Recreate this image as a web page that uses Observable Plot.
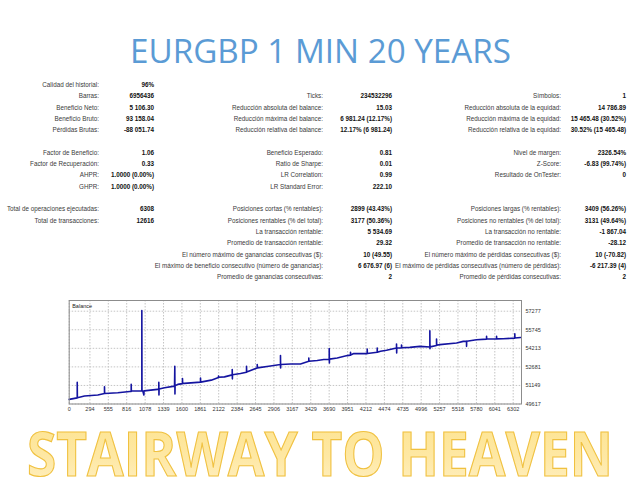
<!DOCTYPE html>
<html>
<head>
<meta charset="utf-8">
<script src="https://cdn.jsdelivr.net/npm/d3@7"></script>
<script src="https://cdn.jsdelivr.net/npm/@observablehq/plot@0.6"></script>
<style>
  html, body { margin: 0; padding: 0; background: #fff; }
  #page { position: relative; width: 640px; height: 480px; overflow: hidden; background: #fff; font-family: "Liberation Sans", Arial, sans-serif; }
  .lab, .val { position: absolute; white-space: nowrap; font-size: 6.3px; line-height: 8px; text-align: right; }
  .lab { color: #3a3a3a; }
  .val { color: #111; font-weight: bold; }
  #chart { position: absolute; left: 0; top: 296px; }
  #deco { position: absolute; left: 0; top: 0; pointer-events: none; }
</style>
</head>
<body>
<div id="page">
  <div id="chart"></div>
  <svg id="deco" width="640" height="480"></svg>
</div>
<script>
// ---------- texts ----------
const titleText = "EURGBP 1 MIN 20 YEARS";
const bottomText = "STAIRWAY TO HEAVEN";

// ---------- statistics table (row index, label, value) ----------
const col1Rows = [0, 1, 2, 3, 4, 6, 7, 8, 9, 11, 12];
const col1Labels = ["Calidad del historial:", "Barras:", "Beneficio Neto:", "Beneficio Bruto:", "Pérdidas Brutas:",
  "Factor de Beneficio:", "Factor de Recuperación:", "AHPR:", "GHPR:",
  "Total de operaciones ejecutadas:", "Total de transacciones:"];
const col1Values = ["96%", "6956436", "5 106.30", "93 158.04", "-88 051.74",
  "1.06", "0.33", "1.0000 (0.00%)", "1.0000 (0.00%)", "6308", "12616"];

const col2Rows = [1, 2, 3, 4, 6, 7, 8, 9, 11, 12, 13, 14, 15, 16, 17];
const col2Labels = ["Ticks:", "Reducción absoluta del balance:", "Reducción máxima del balance:", "Reducción relativa del balance:",
  "Beneficio Esperado:", "Ratio de Sharpe:", "LR Correlation:", "LR Standard Error:",
  "Posiciones cortas (% rentables):", "Posiciones rentables (% del total):", "La transacción rentable:",
  "Promedio de transacción rentable:", "El número máximo de ganancias consecutivas ($):",
  "El máximo de beneficio consecutivo (número de ganancias):", "Promedio de ganancias consecutivas:"];
const col2Values = ["234532296", "15.03", "6 981.24 (12.17%)", "12.17% (6 981.24)",
  "0.81", "0.01", "0.99", "222.10",
  "2899 (43.43%)", "3177 (50.36%)", "5 534.69", "29.32", "10 (49.55)", "6 676.97 (6)", "2"];

const col3Rows = [1, 2, 3, 4, 6, 7, 8, 11, 12, 13, 14, 15, 16, 17];
const col3Labels = ["Símbolos:", "Reducción absoluta de la equidad:", "Reducción máxima de la equidad:", "Reducción relativa de la equidad:",
  "Nivel de margen:", "Z-Score:", "Resultado de OnTester:",
  "Posiciones largas (% rentables):", "Posiciones no rentables (% del total):", "La transacción no rentable:",
  "Promedio de transacción no rentable:", "El número máximo de pérdidas consecutivas ($):",
  "El máximo de pérdidas consecutivas (número de pérdidas):", "Promedio de pérdidas consecutivas:"];
const col3Values = ["1", "14 786.89", "15 465.48 (30.52%)", "30.52% (15 465.48)",
  "2326.54%", "-6.83 (99.74%)", "0",
  "3409 (56.26%)", "3131 (49.64%)", "-1 867.04", "-28.12", "10 (-70.82)", "-6 217.39 (4)", "2"];

// ---------- balance curve ----------
const tradeNo = [
  0, 114, 114, 116, 217, 406, 501, 501, 503, 690, 860, 880, 880, 882,
  1031, 1031, 1033, 1045, 1060, 1062, 1253, 1272, 1272, 1274, 1276, 1353,
  1495, 1499, 1501, 1503, 1541, 1608, 1608, 1610, 1636, 1864, 1864, 1866,
  2016, 2119, 2119, 2121, 2204, 2314, 2314, 2316, 2318, 2431, 2517, 2517, 2519,
  2669, 2669, 2671, 2833, 2999, 2999, 3001, 3003, 3141, 3283, 3401, 3401, 3403,
  3520, 3614, 3691, 3691, 3693, 3695, 3804, 3946, 3993, 3993, 3995, 4040,
  4230, 4230, 4232, 4372, 4372, 4374, 4419, 4504, 4646, 4646, 4648, 4650,
  4717, 4717, 4719, 4835, 4977, 5119, 5119, 5121, 5123, 5214, 5214, 5216,
  5261, 5498, 5593, 5640, 5640, 5642, 5781, 5924, 5924, 5926, 6066, 6066, 6068,
  6160, 6325, 6325, 6327, 6406
];
const balance = [
  50000, 50120, 51398, 50130, 50273, 50356, 50479, 51037, 50480, 50544, 50650, 50650, 51234, 50684,
  50700, 57331, 50690, 50684, 50356, 50700, 50823, 50823, 51398, 50356, 50850, 50955,
  51094, 52735, 50438, 51120, 51234, 51300, 51726, 51316, 51316, 51420, 51751, 51422,
  51586, 51800, 51915, 51820, 51857, 52021, 52465, 51693, 52030, 52136, 52243, 52735, 52250,
  52596, 52875, 52600, 52735, 52875, 53613, 52596, 52880, 52924, 52924, 53146, 53416, 53150,
  53203, 53285, 53300, 54188, 53006, 53320, 53416, 53613, 53650, 53884, 53660, 53777,
  53777, 54155, 53790, 53884, 54237, 53890, 53966, 54048, 54237, 54565, 53827, 54240,
  54250, 54483, 54260, 54294, 54376, 54319, 55665, 54188, 54330, 54450, 54976, 54460,
  54516, 54647, 54787, 54790, 54376, 54800, 54926, 54975, 55197, 54980, 54990, 55197, 54995,
  55008, 55058, 55419, 55060, 55106
];

// ---------- axes ----------
const xTicks = [0, 294, 555, 816, 1078, 1339, 1600, 1861, 2122, 2384, 2645, 2906, 3167, 3429, 3690, 3951, 4212, 4474, 4735, 4996, 5257, 5518, 5780, 6041, 6302];
const yTicks = [49617, 51149, 52681, 54213, 55745, 57277];

// ---------- build stats ----------
const page = document.getElementById("page");
const rowY = r => 85 + r * 11.3;
function addColumn(rows, labels, values, labelRight, valueRight) {
  rows.forEach((r, i) => {
    const l = document.createElement("div");
    l.className = "lab";
    l.textContent = labels[i];
    l.style.right = (640 - labelRight) + "px";
    l.style.top = (rowY(r) - 4) + "px";
    page.appendChild(l);
    const v = document.createElement("div");
    v.className = "val";
    v.textContent = values[i];
    v.style.right = (640 - valueRight) + "px";
    v.style.top = (rowY(r) - 4) + "px";
    page.appendChild(v);
  });
}
addColumn(col1Rows, col1Labels, col1Values, 99, 154);
addColumn(col2Rows, col2Labels, col2Values, 323, 392);
addColumn(col3Rows, col3Labels, col3Values, 561, 626);

// ---------- chart ----------
const data = tradeNo.map((t, i) => ({trade: t, balance: balance[i]}));
const chart = Plot.plot({
  width: 640,
  height: 122,
  marginLeft: 68.7,
  marginRight: 119,
  marginTop: 4,
  marginBottom: 14.5,
  style: {fontFamily: "Liberation Sans, Arial, sans-serif", fontSize: "5.5px", color: "#333", background: "transparent"},
  x: {domain: [0, 6420], ticks: xTicks, tickSize: 0, tickPadding: 3, tickFormat: d3.format("d"), label: null},
  y: {domain: [49617, 58160], ticks: yTicks, axis: "right", tickSize: 0, tickPadding: 4, tickFormat: d3.format("d"), label: null},
  marks: [
    Plot.gridX(xTicks, {stroke: "#c4c4c4", strokeOpacity: 1, strokeDasharray: "1.5,1.5"}),
    Plot.gridY(yTicks, {stroke: "#c4c4c4", strokeOpacity: 1, strokeDasharray: "1.5,1.5"}),
    Plot.line(data, {x: "trade", y: "balance", stroke: "#1414a0", strokeWidth: 1.6}),
    Plot.frame({stroke: "#8c8c8c"}),
    Plot.text(["Balance"], {frameAnchor: "top-left", dx: 3, dy: 4, fontSize: 5.5, fill: "#222"})
  ]
});
document.getElementById("chart").appendChild(chart);

// ---------- title & bottom caption ----------
const deco = d3.select("#deco");
const defs = deco.append("defs");
const grad = defs.append("linearGradient").attr("id", "gold").attr("x1", 0).attr("y1", 0).attr("x2", 0).attr("y2", 1);
grad.append("stop").attr("offset", "0%").attr("stop-color", "#fde38c");
grad.append("stop").attr("offset", "55%").attr("stop-color", "#fee8a4");
grad.append("stop").attr("offset", "100%").attr("stop-color", "#fff1c8");

deco.append("text")
  .attr("x", 130).attr("y", 63)
  .attr("textLength", 381).attr("lengthAdjust", "spacingAndGlyphs")
  .attr("font-family", "Open Sans, Lato, sans-serif")
  .attr("font-size", 33)
  .attr("fill", "#5b9bd5")
  .text(titleText);

deco.append("text")
  .attr("x", 27).attr("y", 476)
  .attr("textLength", 586).attr("lengthAdjust", "spacingAndGlyphs")
  .attr("font-family", "Open Sans, Lato, sans-serif")
  .attr("font-weight", "bold")
  .attr("font-size", 61)
  .attr("fill", "url(#gold)")
  .attr("stroke", "#f0c140")
  .attr("stroke-width", 1.2)
  .text(bottomText);
</script>
</body>
</html>
